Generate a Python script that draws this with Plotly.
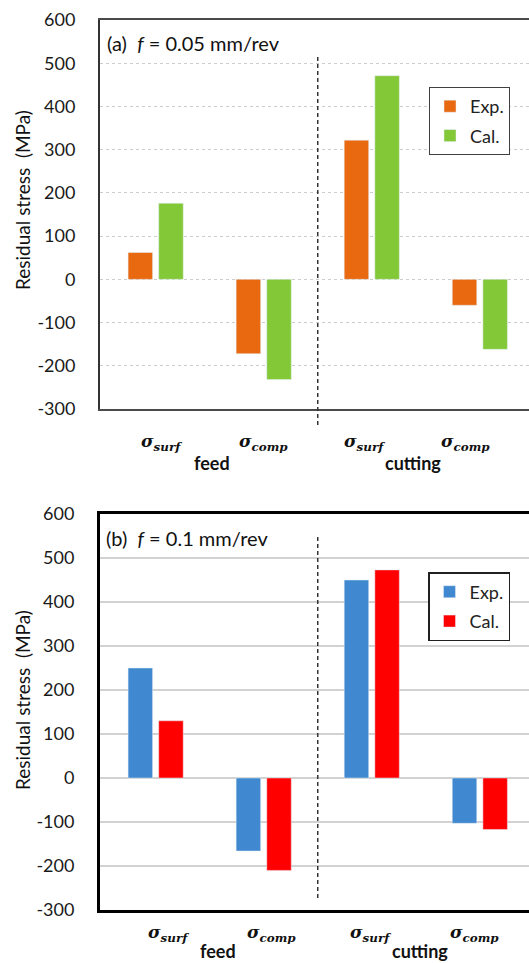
import plotly.graph_objects as go

# Residual stress components, grouped by direction
categories = [0, 1, 2, 3]
comp_labels = ["surf", "comp", "surf", "comp"]
direction_labels = ["feed", "cutting"]

# (a) f = 0.05 mm/rev
exp_a = [62, -172, 322, -60]
cal_a = [176, -232, 471, -162]

# (b) f = 0.1 mm/rev
exp_b = [250, -166, 450, -103]
cal_b = [130, -210, 473, -117]

tick_vals = [600, 500, 400, 300, 200, 100, 0, -100, -200, -300]
tick_text = [str(v) for v in tick_vals]

FONT = "Lato"
W, H = 529, 963
ML, MR, MT, MB = 100, 0, 20, 53
plot_h = H - MT - MB


def py(pix):
    """pixel row -> paper y"""
    return (H - MB - pix) / plot_h


def px(pix):
    """pixel column -> paper x"""
    return (pix - ML) / (W - ML - MR)


fig = go.Figure()

fig.add_trace(go.Bar(x=categories, y=exp_a, name="Exp.", marker_color="#E8690F",
                     xaxis="x", yaxis="y", legend="legend", legendgroup="a1"))
fig.add_trace(go.Bar(x=categories, y=cal_a, name="Cal.", marker_color="#82C837",
                     xaxis="x", yaxis="y", legend="legend", legendgroup="a2"))
fig.add_trace(go.Bar(x=categories, y=exp_b, name="Exp.", marker_color="#4088CF",
                     xaxis="x2", yaxis="y2", legend="legend2", legendgroup="b1"))
fig.add_trace(go.Bar(x=categories, y=cal_b, name="Cal.", marker_color="#FF0000",
                     xaxis="x2", yaxis="y2", legend="legend2", legendgroup="b2"))

xr = [-0.515, 3.455]
xcommon = dict(range=xr, showticklabels=False, showgrid=False, zeroline=False,
               ticks="", fixedrange=True)
ycommon = dict(range=[-300, 600], tickvals=tick_vals, ticktext=tick_text,
               zeroline=False, ticks="", ticklabelstandoff=19,
               tickfont=dict(family=FONT, size=18, color="#1a1a1a"))

fig.update_layout(
    width=W, height=H,
    margin=dict(l=ML, r=MR, t=MT, b=MB),
    paper_bgcolor="white", plot_bgcolor="white",
    barmode="group", bargap=0.433, bargroupgap=0.2,
    showlegend=True,
    xaxis=dict(**xcommon, domain=[0, 1], anchor="y", showline=True, mirror=True,
               linecolor="#4a4a4a", linewidth=2),
    yaxis=dict(**ycommon, domain=[py(409), py(20)], anchor="x", showline=True,
               linecolor="#333333", linewidth=2, showgrid=True,
               gridcolor="#CDCDCD", gridwidth=1.3, griddash="dot"),
    xaxis2=dict(**xcommon, domain=[0, 1], anchor="y2", showline=True, mirror=True,
                linecolor="#000000", linewidth=3),
    yaxis2=dict(**ycommon, domain=[py(910), py(514)], anchor="x2", showline=True,
                linecolor="#000000", linewidth=3, showgrid=True,
                gridcolor="#D2D2D2", gridwidth=2),
    legend=dict(x=px(429), y=py(87), xanchor="left", yanchor="top",
                bgcolor="white", bordercolor="#404040", borderwidth=1,
                font=dict(family=FONT, size=18, color="#222222"),
                tracegroupgap=3, traceorder="grouped", itemwidth=30),
    legend2=dict(x=px(428), y=py(572), xanchor="left", yanchor="top",
                 bgcolor="white", bordercolor="#202020", borderwidth=1.5,
                 font=dict(family=FONT, size=18, color="#222222"),
                 tracegroupgap=3, traceorder="grouped", itemwidth=30),
)

# divider between feed and cutting groups
for y0, y1, xa in [(py(425), py(55), "x"), (py(898), py(537), "x2")]:
    fig.add_shape(type="line", xref=xa, yref="paper", x0=1.5, x1=1.5, y0=y0, y1=y1,
                  line=dict(color="#333333", width=1.5, dash="4px,3px"))

annotations = []
# panel titles
annotations.append(dict(xref="paper", yref="paper", x=px(105), y=py(43),
                        xanchor="left", yanchor="middle", showarrow=False,
                        text="(a)  <i>f</i> = 0.05 mm/rev",
                        font=dict(family=FONT, size=20, color="#111111")))
annotations.append(dict(xref="paper", yref="paper", x=px(104), y=py(538),
                        xanchor="left", yanchor="middle", showarrow=False,
                        text="(b)  <i>f</i> = 0.1 mm/rev",
                        font=dict(family=FONT, size=20, color="#111111")))

# y axis titles
for yc in [py(200), py(700)]:
    annotations.append(dict(xref="paper", yref="paper", x=px(22), y=yc,
                            xanchor="center", yanchor="middle", showarrow=False,
                            textangle=-90, text="Residual stress  (MPa)",
                            font=dict(family=FONT, size=19, color="#111111")))

# component and direction labels under each panel
sig_x_a = [0.05, 1.0, 1.93, 2.87]
sig_x_b = [0.12, 1.07, 1.99, 2.95]
for xa, sx, ys, yd, dx in [("x", sig_x_a, 442, 463, [0.52, 2.38]),
                          ("x2", sig_x_b, 933, 951, [0.58, 2.45])]:
    for c, lab, xv in zip(categories, comp_labels, sx):
        annotations.append(dict(xref=xa, yref="paper", x=xv, y=py(ys),
                                xanchor="center", yanchor="middle", showarrow=False,
                                text=f"<b><i>σ</i></b><sub><b><i>{lab}</i></b></sub>",
                                font=dict(family="DejaVu Serif", size=17, color="#111111")))
    for lab, xv in zip(direction_labels, dx):
        annotations.append(dict(xref=xa, yref="paper", x=xv, y=py(yd),
                                xanchor="center", yanchor="middle", showarrow=False,
                                text=f"<b>{lab}</b>",
                                font=dict(family=FONT, size=18, color="#111111")))

fig.update_layout(annotations=annotations)

fig.write_html("out.html")
